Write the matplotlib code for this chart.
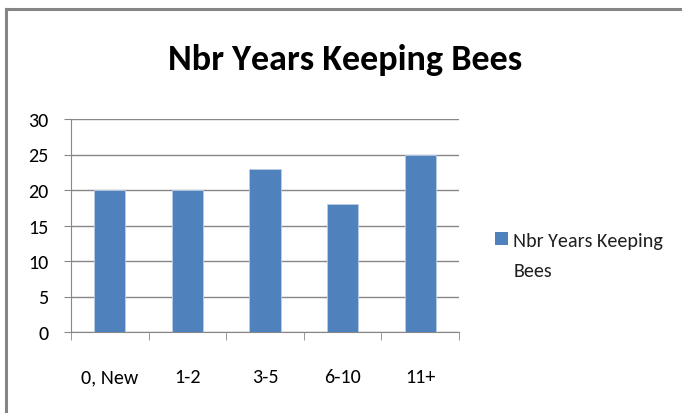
import matplotlib
matplotlib.use("Agg")
import matplotlib.pyplot as plt
from matplotlib.lines import Line2D
from matplotlib.patches import Rectangle
from matplotlib.legend_handler import HandlerBase

categories = ["0, New", "1-2", "3-5", "6-10", "11+"]
values = [20, 20, 23, 18, 25]
series_name = "Nbr Years Keeping\nBees"
title = "Nbr Years Keeping Bees"
yticks = [0, 5, 10, 15, 20, 25, 30]

BAR_COLOR = "#4F81BD"


class FirstLineHandler(HandlerBase):
    """Draw the legend square aligned with the first line of a two-line label."""
    def create_artists(self, legend, orig_handle, xdescent, ydescent, width, height, fontsize, trans):
        r = Rectangle((-xdescent, -ydescent + 12.0), width, height,
                      facecolor=BAR_COLOR, edgecolor="none", transform=trans)
        return [r]


plt.rcParams['font.family'] = ['Carlito', 'Open Sans', 'DejaVu Sans']
fig = plt.figure(figsize=(6.82, 4.14), dpi=100)
ax = fig.add_axes([71 / 682, (414 - 333) / 414, (459 - 71) / 682, (333 - 120) / 414])

x = list(range(len(categories)))
bars = ax.bar(x, values, width=0.4, color=BAR_COLOR, edgecolor="#B9CDE5", linewidth=0.6, zorder=3)
ax.set_xlim(-0.5, len(categories) - 0.5)
ax.set_ylim(0, 30)
ax.set_yticks(yticks)
ax.set_yticklabels([str(t) for t in yticks], fontsize=14.5, color="#000000")
ax.yaxis.grid(True, color="#878787", linewidth=1.0, zorder=0)
ax.set_xticks(x)
ax.set_xticklabels(categories, fontsize=14.5)
ax.set_xticks([i - 0.5 for i in range(len(categories) + 1)], minor=True)
ax.tick_params(axis='x', which='major', length=0, pad=26)
ax.tick_params(axis='x', which='minor', length=6, color="#878787", direction='out')
ax.tick_params(axis='y', length=5, color="#878787", direction='out', pad=11)
for s in ['top', 'right']:
    ax.spines[s].set_visible(False)
for s in ['left', 'bottom']:
    ax.spines[s].set_color("#878787")

fig.text(345 / 682, (414 - 70) / 414, title, ha='center', va='baseline', fontsize=26, fontweight='bold')

leg = ax.legend([bars], [series_name], loc='center left', bbox_to_anchor=(1.047, 0.36),
                frameon=False, fontsize=14.5, handlelength=0.65, handleheight=0.65,
                handletextpad=0.25, labelspacing=0.0,
                handler_map={type(bars): FirstLineHandler()})
for t in leg.get_texts():
    t.set_linespacing(1.9)
    t.set_color("#202020")

fig.add_artist(Line2D([6 / 682, 6 / 682], [0, (414 - 9.5) / 414], transform=fig.transFigure,
                      color="#858585", linewidth=2.2))
fig.add_artist(Line2D([6 / 682, 1], [(414 - 9.5) / 414, (414 - 9.5) / 414], transform=fig.transFigure,
                      color="#858585", linewidth=2.2))
fig.savefig("out.png", dpi=100)
